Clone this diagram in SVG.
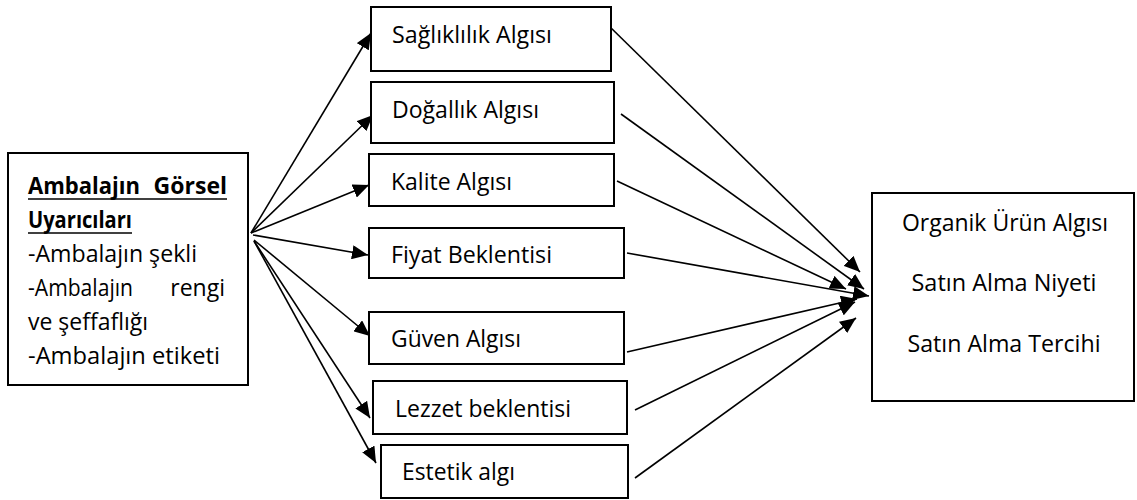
<svg xmlns="http://www.w3.org/2000/svg" width="1137" height="500" viewBox="0 0 1137 500">
  <defs>
    <marker id="arrow" markerUnits="userSpaceOnUse" markerWidth="16" markerHeight="14" refX="16" refY="7" orient="auto">
      <path d="M0,0 L16,7 L0,14 z" fill="#000"/>
    </marker>
    <style>
      rect.box { fill: #fff; stroke: #000; stroke-width: 2; }
      text { font-family: "Open Sans", "Noto Sans", "Liberation Sans", sans-serif; font-size: 23px; fill: #000; }
      text.b { font-weight: bold; }
      text.c { text-anchor: middle; }
      text.e { text-anchor: end; }
      .conn line { stroke: #000; stroke-width: 1.6; fill: none; }
      .conn line.a { marker-end: url(#arrow); }
      line.ul { stroke: #000; stroke-width: 1.6; }
    </style>
  </defs>
  <rect width="1137" height="500" fill="#fff"/>

  <!-- connectors -->
  <g id="connectors" class="conn">
    <line class="a" x1="251" y1="233" x2="371" y2="33"/>
    <line class="a" x1="251" y1="233" x2="373" y2="115"/>
    <line class="a" x1="251" y1="233" x2="369" y2="185"/>
    <line class="a" x1="253" y1="235" x2="368" y2="255"/>
    <line class="a" x1="254" y1="240" x2="370" y2="336"/>
    <line class="a" x1="254" y1="241" x2="370" y2="418"/>
    <line class="a" x1="254" y1="241" x2="376" y2="463"/>

    <line class="a" x1="607" y1="24" x2="860" y2="272"/>
    <line class="a" x1="621" y1="114" x2="864" y2="289"/>
    <line class="a" x1="617" y1="181" x2="846" y2="289"/>
    <line class="a" x1="627" y1="253" x2="869" y2="296"/>
    <line class="a" x1="627" y1="352" x2="857" y2="299"/>
    <line class="a" x1="635" y1="410" x2="855" y2="302"/>
    <line class="a" x1="635" y1="478" x2="856" y2="318"/>
  </g>

  <!-- source: visual cues of the package -->
  <g id="node-source">
    <rect class="box" x="8" y="153" width="240" height="232"/>
    <text class="b" x="28" y="194" textLength="112" lengthAdjust="spacingAndGlyphs">Ambalajın</text>
    <text class="b e" x="227" y="194">Görsel</text>
    <line class="ul" x1="28" y1="199" x2="227" y2="199"/>
    <text class="b" x="28" y="228" textLength="104" lengthAdjust="spacingAndGlyphs">Uyarıcıları</text>
    <line class="ul" x1="28" y1="233" x2="132" y2="233"/>
    <text x="28" y="262" textLength="169" lengthAdjust="spacingAndGlyphs">-Ambalajın şekli</text>
    <text x="28" y="296" textLength="105" lengthAdjust="spacingAndGlyphs">-Ambalajın</text>
    <text class="e" x="225" y="296">rengi</text>
    <text x="28" y="330" textLength="120" lengthAdjust="spacingAndGlyphs">ve şeffaflığı</text>
    <text x="28" y="364" textLength="192" lengthAdjust="spacingAndGlyphs">-Ambalajın etiketi</text>
  </g>

  <!-- intermediate perceptions -->
  <g id="node-saglik">
    <rect class="box" x="371" y="7" width="240" height="64"/>
    <text x="392" y="43" textLength="160" lengthAdjust="spacingAndGlyphs">Sağlıklılık Algısı</text>
  </g>
  <g id="node-dogallik">
    <rect class="box" x="371" y="82" width="243" height="61"/>
    <text x="392" y="118" textLength="147" lengthAdjust="spacingAndGlyphs">Doğallık Algısı</text>
  </g>
  <g id="node-kalite">
    <rect class="box" x="369" y="154" width="245" height="52"/>
    <text x="391" y="190" textLength="121" lengthAdjust="spacingAndGlyphs">Kalite Algısı</text>
  </g>
  <g id="node-fiyat">
    <rect class="box" x="369" y="228" width="255" height="50"/>
    <text x="391" y="263" textLength="161" lengthAdjust="spacingAndGlyphs">Fiyat Beklentisi</text>
  </g>
  <g id="node-guven">
    <rect class="box" x="369" y="312" width="255" height="52"/>
    <text x="391" y="347" textLength="130" lengthAdjust="spacingAndGlyphs">Güven Algısı</text>
  </g>
  <g id="node-lezzet">
    <rect class="box" x="373" y="381" width="254" height="53"/>
    <text x="395" y="417" textLength="176" lengthAdjust="spacingAndGlyphs">Lezzet beklentisi</text>
  </g>
  <g id="node-estetik">
    <rect class="box" x="381" y="445" width="247" height="53"/>
    <text x="402" y="480" textLength="113" lengthAdjust="spacingAndGlyphs">Estetik algı</text>
  </g>

  <!-- outcome -->
  <g id="node-outcome">
    <rect class="box" x="872" y="193" width="262" height="208"/>
    <text class="c" x="1005" y="231" textLength="206" lengthAdjust="spacingAndGlyphs">Organik Ürün Algısı</text>
    <text class="c" x="1004" y="291" textLength="185" lengthAdjust="spacingAndGlyphs">Satın Alma Niyeti</text>
    <text class="c" x="1004" y="352" textLength="193" lengthAdjust="spacingAndGlyphs">Satın Alma Tercihi</text>
  </g>
</svg>
